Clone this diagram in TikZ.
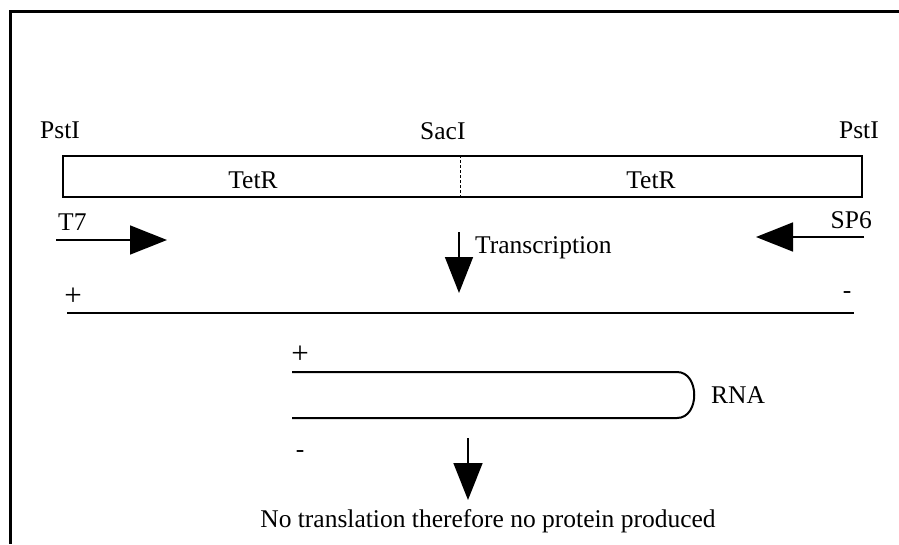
\documentclass[tikz,border=0pt]{standalone}
\usepackage{fontspec}
\setmainfont{Liberation Serif}
\usetikzlibrary{arrows.meta}
\begin{document}
\begin{tikzpicture}[x=1pt,y=-1pt,
  lbl/.style={font=\fontsize{25.5}{30}\selectfont, inner sep=0pt},
  sign/.style={font=\fontsize{31}{34}\selectfont, inner sep=0pt},
  strand/.style={line width=2pt},
  bigarrow/.style={line width=1.6pt, -{Triangle[length=37pt,width=29pt]}},
  frame/.style={line width=3pt}]
\useasboundingbox (0,0) rectangle (899,544);

% outer frame (top and left edges)
\coordinate (frTR) at (899,11);
\coordinate (frTL) at (10,11);
\coordinate (frBL) at (10,544);
\draw[frame] (frTR) -- (frTL) -- (frBL);

% restriction sites
\node[lbl, anchor=base west] (pstL) at (40,138) {PstI};
\node[lbl, anchor=base west] (sac) at (420,139) {SacI};
\node[lbl, anchor=base east] (pstR) at (879,138) {PstI};

% TetR insert
\node[draw, strand, minimum width=799pt, minimum height=41pt, inner sep=0pt, anchor=north west] (insert) at (62,155) {};
\coordinate (cutTop) at (460,155);
\coordinate (cutBot) at (460,196);
\draw[line width=0.8pt, dash pattern=on 3pt off 2pt] (cutTop) -- (cutBot);
\node[lbl, anchor=base] (tetL) at (253,188) {TetR};
\node[lbl, anchor=base] (tetR) at (651,188) {TetR};

% promoters
\node[lbl, anchor=base west] (t7) at (58,230) {T7};
\node[lbl, anchor=base east] (sp6) at (872,228) {SP6};
\coordinate (t7a) at (56,240);
\coordinate (t7b) at (167,240);
\draw[bigarrow] (t7a) -- (t7b);
\coordinate (sp6a) at (864,237);
\coordinate (sp6b) at (756,237);
\draw[bigarrow] (sp6a) -- (sp6b);

% transcription
\coordinate (trA) at (459,232);
\coordinate (trB) at (459,293);
\draw[bigarrow, -{Triangle[length=36pt,width=28pt]}] (trA) -- (trB);
\node[lbl, anchor=base west] (trans) at (475,253) {Transcription};

% DNA strand
\node[sign] (plusA) at (73,297) {+};
\node[lbl] (minusA) at (847,295) {-};
\coordinate (dnaL) at (67,313);
\coordinate (dnaR) at (854,313);
\draw[strand] (dnaL) -- (dnaR);

% double-stranded RNA hairpin
\node[sign] (plusB) at (300,355) {+};
\node[lbl] (minusB) at (300,454) {-};
\coordinate (rnaTL) at (292,372);
\coordinate (rnaTR) at (677,372);
\coordinate (rnaBR) at (677,418);
\coordinate (rnaBL) at (292,418);
\draw[strand] (rnaTL) -- (rnaTR) .. controls (700,372) and (700,418) .. (rnaBR) -- (rnaBL);
\node[lbl, anchor=base west] (rna) at (711,403) {RNA};

% no translation
\coordinate (noA) at (468,438);
\coordinate (noB) at (468,500);
\draw[bigarrow] (noA) -- (noB);
\node[lbl, anchor=base] (result) at (488,527) {No translation therefore no protein produced};
\end{tikzpicture}
\end{document}
